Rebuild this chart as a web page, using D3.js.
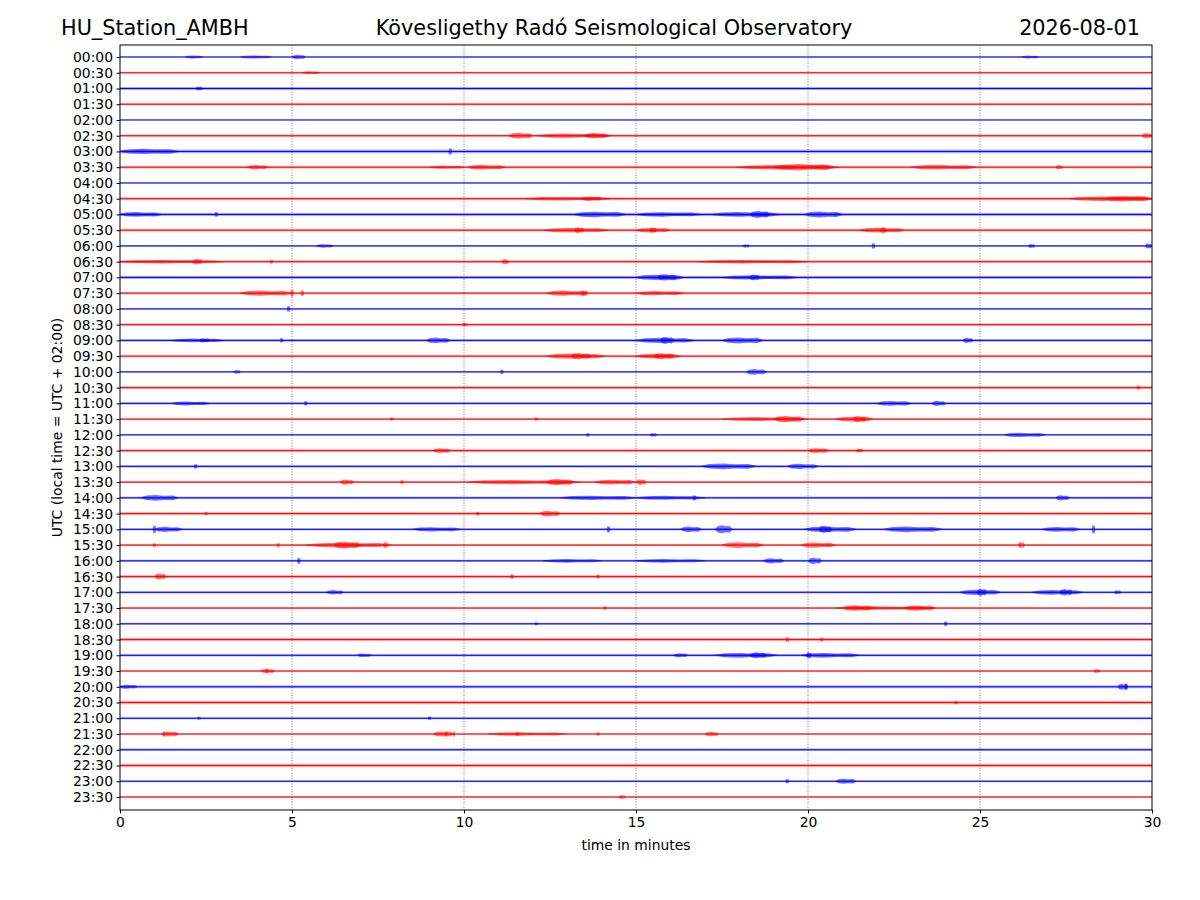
<!DOCTYPE html>
<html>
<head>
<meta charset="utf-8">
<script src="https://cdn.jsdelivr.net/npm/d3@7"></script>
<style>
  body { margin: 0; background: #fff; }
  svg { font-family: "DejaVu Sans", sans-serif; }
  .axis text { font-family: "DejaVu Sans", sans-serif; font-size: 13.9px; fill: #000; }
  .axis path, .axis line { stroke: #000; }
</style>
</head>
<body>
<div id="chart"></div>
<script>
// Row labels (one trace per half hour)
const rowLabels = d3.range(48).map(i =>
    String(Math.floor(i / 2)).padStart(2, "0") + ":" + (i % 2 ? "30" : "00"));

const traceColors = ["#0000ff", "#ff0000"];

const xTicks = [0, 5, 10, 15, 20, 25, 30];

// Background noise level of each trace (half band, px)
const noiseLevel = [
    0.6, 1.0, 1.5, 1.2, 0.5, 1.2, 1.8, 1.3, 0.6, 1.4, 1.6, 1.3,
    0.8, 1.3, 1.5, 1.2, 0.8, 1.2, 1.3, 1.2, 0.8, 1.4, 1.2, 1.0,
    0.8, 1.4, 1.2, 1.1, 1.2, 1.4, 1.1, 1.0, 1.1, 1.4, 1.1, 1.0,
    1.0, 1.6, 1.2, 0.8, 1.4, 1.7, 1.1, 0.8, 1.3, 1.7, 1.0, 0.8
];

// Bursts read from the record: [row, start min, end min, peak half amplitude px]
const bursts = [
    [0, 1.9, 2.4, 1.6], [0, 3.5, 4.4, 1.6], [0, 5.0, 5.4, 2.2], [0, 26.2, 26.7, 1.4],
    [1, 5.3, 5.8, 1.6],
    [2, 2.2, 2.4, 2.0],
    [5, 11.3, 12.0, 3.0], [5, 12.1, 14.3, 2.2], [5, 13.5, 14.2, 2.6], [5, 29.7, 30.0, 2.6],
    [6, 0.0, 1.7, 2.6], [6, 9.55, 9.65, 3.5],
    [7, 3.7, 4.3, 2.2], [7, 9.0, 10.0, 1.6], [7, 10.1, 11.2, 2.4],
    [7, 17.9, 20.9, 2.2], [7, 19.0, 20.8, 3.2], [7, 23.0, 24.9, 2.4], [7, 27.2, 27.4, 2.2],
    [9, 11.8, 14.3, 1.8], [9, 13.4, 14.0, 2.2], [9, 27.6, 30.0, 2.2], [9, 28.6, 30.0, 2.8],
    [10, 0.0, 1.2, 2.4], [10, 2.75, 2.85, 2.6], [10, 13.2, 14.7, 2.8],
    [10, 15.0, 16.9, 2.2], [10, 17.2, 19.2, 2.4], [10, 18.3, 18.9, 3.5], [10, 19.9, 21.0, 3.0],
    [11, 12.3, 14.2, 2.2], [11, 13.2, 13.5, 3.0], [11, 15.0, 16.0, 2.2], [11, 15.4, 15.6, 2.8],
    [11, 21.5, 22.8, 2.4], [11, 22.1, 22.3, 3.2],
    [12, 5.7, 6.2, 1.8], [12, 18.1, 18.3, 1.8], [12, 21.85, 21.95, 3.0], [12, 26.4, 26.6, 2.0], [12, 29.8, 30.0, 2.6],
    [13, 0.0, 3.0, 1.8], [13, 2.1, 2.4, 2.8], [13, 4.35, 4.45, 2.2], [13, 11.1, 11.3, 2.6], [13, 16.8, 20.0, 1.8],
    [14, 15.0, 16.4, 2.6], [14, 15.6, 16.2, 3.2], [14, 17.5, 19.7, 2.2], [14, 18.3, 18.6, 2.8],
    [15, 3.5, 5.0, 2.6], [15, 4.95, 5.05, 4.0], [15, 5.25, 5.35, 3.2], [15, 12.4, 13.6, 2.6],
    [15, 13.4, 13.6, 3.0], [15, 15.0, 16.4, 2.2],
    [16, 4.85, 4.95, 3.2],
    [17, 9.95, 10.1, 2.0],
    [18, 1.5, 3.0, 1.8], [18, 2.3, 2.6, 2.2], [18, 4.65, 4.75, 2.6], [18, 8.9, 9.6, 2.8],
    [18, 15.0, 16.7, 2.6], [18, 15.7, 16.1, 3.6], [18, 17.5, 18.7, 3.0], [18, 24.5, 24.8, 2.6],
    [19, 12.4, 14.1, 2.6], [19, 13.1, 13.7, 3.2], [19, 15.0, 16.3, 2.4], [19, 15.5, 16.1, 3.0],
    [20, 3.3, 3.5, 1.8], [20, 11.05, 11.15, 2.4], [20, 18.2, 18.8, 2.8],
    [21, 29.55, 29.65, 2.4],
    [22, 1.5, 2.6, 2.0], [22, 5.35, 5.45, 2.6], [22, 22.0, 23.0, 2.4], [22, 23.6, 24.0, 2.6],
    [23, 7.85, 7.95, 2.0], [23, 12.05, 12.15, 2.0], [23, 17.5, 20.0, 2.0], [23, 19.0, 19.9, 3.2],
    [23, 20.8, 21.9, 2.4], [23, 21.3, 21.7, 3.2],
    [24, 13.55, 13.65, 2.0], [24, 15.4, 15.6, 1.8], [24, 25.7, 26.9, 2.2],
    [25, 9.1, 9.6, 2.4], [25, 20.0, 20.6, 2.4], [25, 21.4, 21.6, 2.0],
    [26, 2.15, 2.25, 2.6], [26, 16.9, 18.5, 2.8], [26, 19.4, 20.3, 2.6],
    [27, 6.4, 6.8, 2.6], [27, 8.15, 8.25, 2.2], [27, 10.1, 13.4, 2.2], [27, 12.4, 13.2, 3.2],
    [27, 13.8, 15.0, 2.4], [27, 15.0, 15.3, 2.8],
    [28, 0.6, 1.7, 2.8], [28, 12.8, 15.0, 2.2], [28, 15.0, 17.0, 2.0], [28, 16.65, 16.75, 2.8],
    [28, 27.2, 27.6, 2.6],
    [29, 2.45, 2.55, 2.0], [29, 10.35, 10.45, 2.2], [29, 12.2, 12.8, 2.8],
    [30, 0.95, 1.05, 4.2], [30, 1.0, 1.8, 2.6], [30, 8.5, 9.9, 2.2], [30, 14.15, 14.25, 3.6],
    [30, 16.3, 16.9, 2.8], [30, 17.3, 17.8, 4.0], [30, 19.9, 21.4, 2.8], [30, 20.3, 20.7, 3.4],
    [30, 22.2, 23.9, 2.8], [30, 26.8, 27.9, 2.4], [30, 28.25, 28.35, 4.6],
    [31, 0.95, 1.05, 2.2], [31, 4.55, 4.65, 2.4], [31, 5.4, 7.9, 2.4], [31, 6.2, 7.0, 3.4],
    [31, 7.65, 7.8, 3.0], [31, 17.5, 18.7, 2.8], [31, 19.8, 20.8, 2.6], [31, 26.1, 26.3, 3.0],
    [32, 5.15, 5.25, 3.4], [32, 12.3, 14.0, 1.8], [32, 15.0, 17.0, 1.8], [32, 18.7, 19.3, 2.6],
    [32, 20.0, 20.4, 3.2],
    [33, 1.0, 1.35, 3.0], [33, 11.35, 11.45, 2.8], [33, 13.85, 13.95, 2.4],
    [34, 6.0, 6.5, 2.2], [34, 24.4, 25.6, 2.6], [34, 24.9, 25.2, 3.6], [34, 26.5, 28.0, 2.4],
    [34, 27.3, 27.7, 3.2], [34, 28.9, 29.1, 2.0],
    [35, 14.05, 14.15, 2.0], [35, 20.8, 23.7, 1.8], [35, 21.0, 21.9, 2.8], [35, 22.8, 23.7, 2.6],
    [36, 12.05, 12.15, 1.8], [36, 23.95, 24.05, 2.6],
    [37, 19.35, 19.45, 2.6], [37, 20.35, 20.45, 2.2],
    [38, 6.9, 7.3, 1.8], [38, 16.1, 16.5, 2.0], [38, 17.3, 19.1, 2.4], [38, 18.3, 18.8, 3.0],
    [38, 19.8, 21.5, 2.4], [38, 19.95, 20.1, 3.2],
    [39, 4.1, 4.5, 2.2], [39, 4.25, 4.3, 2.8], [39, 28.3, 28.5, 2.0],
    [40, 0.0, 0.5, 2.0], [40, 29.0, 29.3, 3.0], [40, 29.2, 29.3, 3.6],
    [41, 24.25, 24.35, 2.0],
    [42, 2.25, 2.35, 1.8], [42, 8.95, 9.05, 2.0],
    [43, 1.2, 1.7, 2.6], [43, 1.25, 1.3, 3.2], [43, 9.1, 9.7, 2.6], [43, 9.45, 9.52, 3.4],
    [43, 9.68, 9.74, 3.2], [43, 10.7, 13.0, 1.8], [43, 11.5, 11.6, 2.2], [43, 13.85, 13.95, 2.0],
    [43, 17.0, 17.4, 2.2],
    [46, 19.35, 19.45, 2.4], [46, 20.8, 21.4, 2.6],
    [47, 14.5, 14.7, 2.0]
];

const margin = {top: 45, right: 48, bottom: 90, left: 120};
const width = 1200 - margin.left - margin.right;
const height = 900 - margin.top - margin.bottom;

const svg = d3.select("#chart").append("svg")
    .attr("width", 1200)
    .attr("height", 900);

const chart = svg.append("g")
    .attr("transform", `translate(${margin.left},${margin.top})`);

const xScale = d3.scaleLinear().domain([0, 30]).range([0, width]);
const yScale = d3.scaleLinear().domain([-0.762, 47.826]).range([0, height]);

// dotted minute grid
chart.selectAll(".grid")
    .data(xTicks.slice(1, -1))
    .join("line")
    .attr("class", "grid")
    .attr("x1", d => xScale(d)).attr("x2", d => xScale(d))
    .attr("y1", 0).attr("y2", height)
    .attr("stroke", "#555")
    .attr("stroke-width", 0.8)
    .attr("stroke-dasharray", "1,1.6");

svg.append("clipPath").attr("id", "plotclip")
    .append("rect").attr("width", width).attr("height", height);

const traces = chart.append("g").attr("clip-path", "url(#plotclip)");

// noise bands
traces.selectAll(".noise")
    .data(noiseLevel)
    .join("rect")
    .attr("class", "noise")
    .attr("x", 0)
    .attr("width", width)
    .attr("y", (d, i) => yScale(i) - d)
    .attr("height", d => 2 * d)
    .attr("fill", (d, i) => traceColors[i % 2])
    .attr("opacity", 0.35);

// burst envelopes
const burstArea = d3.area()
    .x(p => xScale(p[0]))
    .y0(p => p[2] + p[1])
    .y1(p => p[2] - p[1]);

traces.selectAll(".burst")
    .data(bursts)
    .join("path")
    .attr("class", "burst")
    .attr("d", b => {
        const [row, s, e, a] = b;
        const y0 = yScale(row);
        const w = e - s;
        return burstArea([[s, 0.5, y0], [s + w * 0.15, a * 0.8, y0], [s + w * 0.4, a, y0],
            [s + w * 0.6, a * 0.75, y0], [s + w * 0.85, a * 0.85, y0], [e, 0.5, y0]]);
    })
    .attr("fill", b => traceColors[b[0] % 2])
    .attr("opacity", 0.55);

// baselines
traces.selectAll(".trace")
    .data(rowLabels)
    .join("line")
    .attr("class", "trace")
    .attr("x1", 0).attr("x2", width)
    .attr("y1", (d, i) => yScale(i)).attr("y2", (d, i) => yScale(i))
    .attr("stroke", (d, i) => traceColors[i % 2])
    .attr("stroke-width", 1);

// axes
const xAxis = d3.axisBottom(xScale).tickValues(xTicks).tickSize(3.5).tickPadding(3.5);
chart.append("g")
    .attr("class", "axis x-axis")
    .attr("transform", `translate(0,${height})`)
    .call(xAxis);

const yAxis = d3.axisLeft(yScale)
    .tickValues(d3.range(48))
    .tickFormat(i => rowLabels[i])
    .tickSize(3.5).tickPadding(3.5);
chart.append("g")
    .attr("class", "axis y-axis")
    .call(yAxis);

chart.selectAll(".axis .domain").remove();
chart.append("rect")
    .attr("width", width).attr("height", height)
    .attr("fill", "none").attr("stroke", "#000").attr("stroke-width", 1);

// titles
svg.append("text").attr("x", 61).attr("y", 35)
    .attr("font-size", 20.8).text("HU_Station_AMBH");
svg.append("text").attr("x", 614).attr("y", 35).attr("text-anchor", "middle")
    .attr("font-size", 20.8).text("Kövesligethy Radó Seismological Observatory");
svg.append("text").attr("x", 1140).attr("y", 35).attr("text-anchor", "end")
    .attr("font-size", 20.8).text("2026-08-01");

svg.append("text").attr("x", margin.left + width / 2).attr("y", 850)
    .attr("text-anchor", "middle").attr("font-size", 13.9).text("time in minutes");
svg.append("text")
    .attr("transform", `translate(62,${margin.top + height / 2}) rotate(-90)`)
    .attr("text-anchor", "middle").attr("font-size", 13.9)
    .text("UTC (local time = UTC + 02:00)");
</script>
</body>
</html>
